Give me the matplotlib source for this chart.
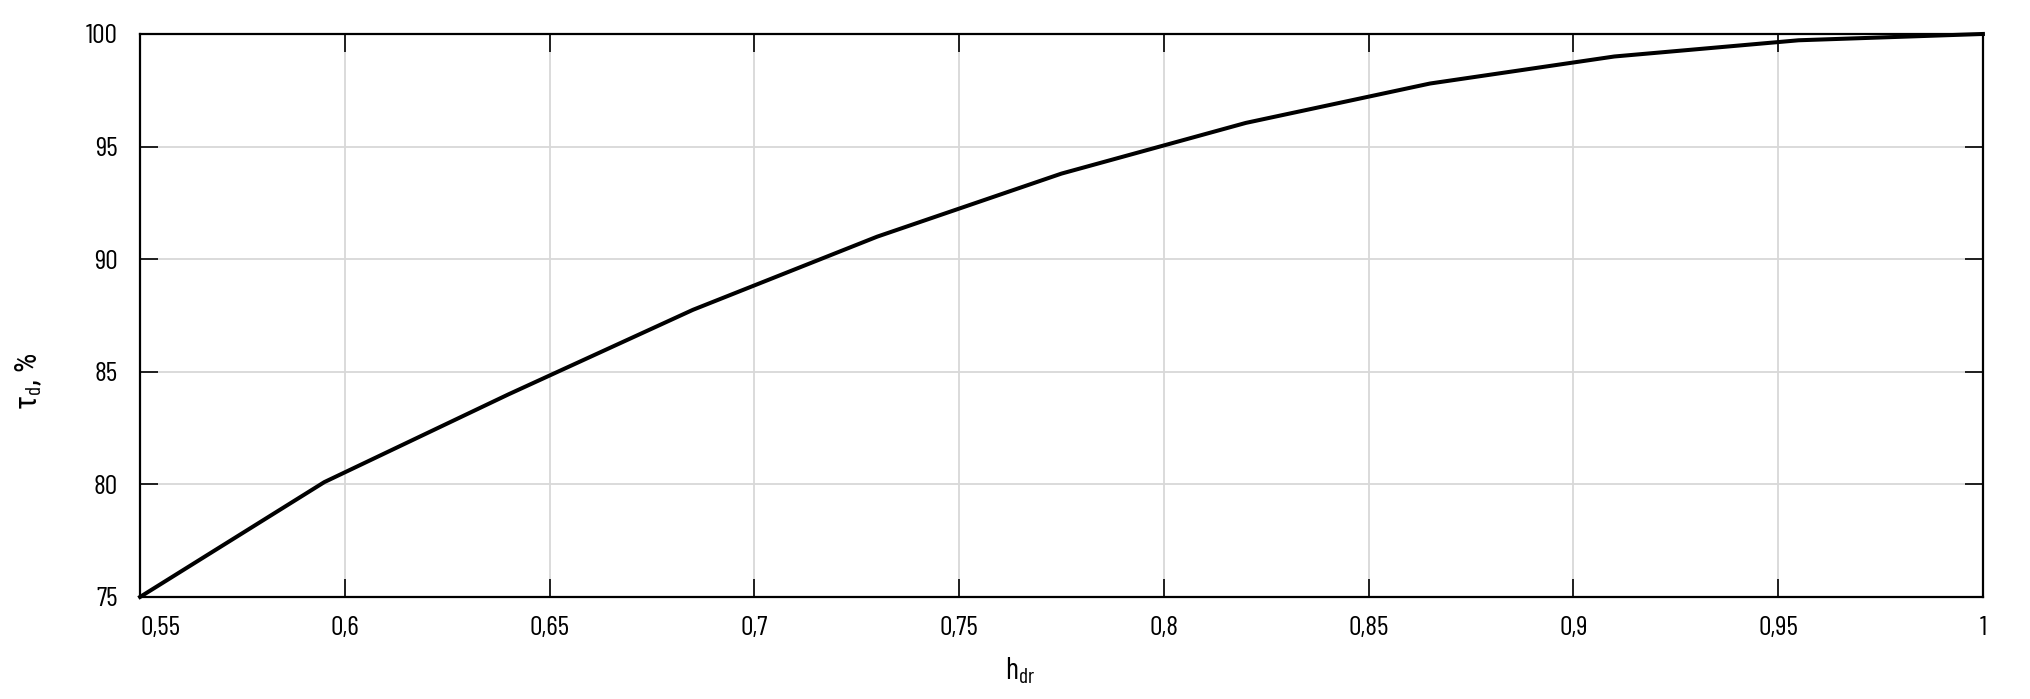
import matplotlib
matplotlib.use('Agg')
import matplotlib.pyplot as plt

# data
h_dr = [0.55, 0.595, 0.64, 0.685, 0.73, 0.775, 0.82, 0.865, 0.91, 0.955, 1.0]
tau_d = [75.0, 80.1, 84.0, 87.75, 91.0, 93.8, 96.05, 97.8, 99.0, 99.72, 100.0]

x_ticks = [0.55, 0.6, 0.65, 0.7, 0.75, 0.8, 0.85, 0.9, 0.95, 1.0]
x_labels = ['0,55', '0,6', '0,65', '0,7', '0,75', '0,8', '0,85', '0,9', '0,95', '1']
y_ticks = [75, 80, 85, 90, 95, 100]
y_labels = ['75', '80', '85', '90', '95', '100']

FONT = 'Barlow Condensed'


def main():
  plt.rcParams['font.family'] = [FONT, 'Roboto Condensed', 'DejaVu Sans']
  plt.rcParams['mathtext.fontset'] = 'custom'
  plt.rcParams['mathtext.rm'] = FONT
  plt.rcParams['mathtext.it'] = FONT

  fig = plt.figure(figsize=(20.3, 6.99), dpi=100)
  ax = fig.add_axes([0.069, 0.146, 0.9078, 0.8054])

  ax.plot(h_dr, tau_d, color='black', lw=2.9, solid_joinstyle='round', zorder=3, clip_on=False)

  ax.set_xlim(0.55, 1.0)
  ax.set_ylim(75, 100)
  ax.set_xticks(x_ticks)
  ax.set_xticklabels(x_labels)
  ax.set_yticks(y_ticks)
  ax.set_yticklabels(y_labels)
  ax.get_xticklabels()[0].set_horizontalalignment('left')

  ax.tick_params(direction='in', length=13, width=1.2, top=True, right=True,
                 labelsize=20, color='black')
  ax.tick_params(axis='x', pad=14)
  ax.tick_params(axis='y', pad=16)
  ax.grid(True, color='#d8d8d8', lw=1.3)
  ax.set_axisbelow(True)
  for s in ax.spines.values():
    s.set_linewidth(1.6)

  fig.text(0.5025, 0.041, r'h$_{\mathrm{dr}}$', fontsize=22, ha='center', va='center')
  # Barlow has no tau, so this label uses a family that does
  fig.text(0.014, 0.455, r'τ$_{\mathrm{d}}$, %', fontsize=22, ha='center', va='center',
           rotation=90, family=['Roboto Condensed', 'DejaVu Sans'])

  fig.savefig('out.png', dpi=100)


if __name__ == '__main__':
  main()
